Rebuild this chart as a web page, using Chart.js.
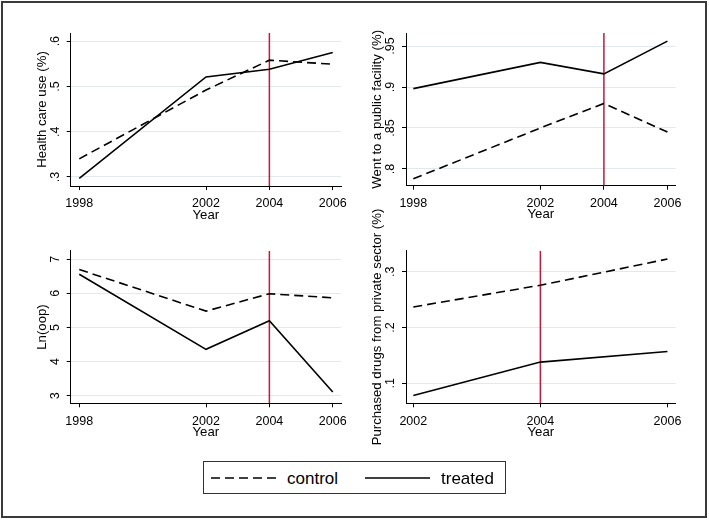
<!DOCTYPE html>
<html>
<head>
<meta charset="utf-8">
<script src="https://cdn.jsdelivr.net/npm/chart.js@4"></script>
<style>
  body { margin: 0; width: 709px; height: 520px; position: relative; overflow: hidden; background: #fff;
         font-family: 'Liberation Sans', Arial, sans-serif; }
  .frame { position: absolute; left: 1px; top: 1px; width: 706px; height: 517px; box-sizing: border-box; border: 2px solid #3a3a3a; }
  canvas { position: absolute; }
  #legend { position: absolute; left: 203px; top: 461px; width: 303px; height: 33px; box-sizing: border-box; border: 1.3px solid #333; }
  .key { position: absolute; }
  .lab { position: absolute; font-size: 17px; line-height: 17px; color: #000; }
</style>
</head>
<body>
<div class="frame"></div>
<canvas id="p1" width="360" height="230" style="left:0;top:0"></canvas>
<canvas id="p2" width="354" height="230" style="left:355px;top:0"></canvas>
<canvas id="p3" width="360" height="230" style="left:0;top:230px"></canvas>
<canvas id="p4" width="354" height="265" style="left:355px;top:195px"></canvas>

<div id="legend"></div>
<svg class="key" style="left:211px;top:476px" width="66" height="4"><line x1="0" y1="2" x2="66" y2="2" stroke="#000" stroke-width="1.6" stroke-dasharray="9 5"/></svg>
<span class="lab" style="left:287px;top:470px">control</span>
<svg class="key" style="left:365px;top:476px" width="65" height="4"><line x1="0" y1="2" x2="65" y2="2" stroke="#000" stroke-width="1.6"/></svg>
<span class="lab" style="left:441px;top:470px">treated</span>

<script>
// survey years
const years = [1998, 2002, 2004, 2006];
const drugYears = [2002, 2004, 2006];
const treatYear = 2004;

// health care use (%)
const careControl = [0.340, 0.492, 0.558, 0.549];
const careTreated = [0.297, 0.521, 0.538, 0.575];
const careTicks = [0.3, 0.4, 0.5, 0.6];

// went to a public facility (%)
const publicControl = [0.788, 0.850, 0.880, 0.845];
const publicTreated = [0.898, 0.930, 0.916, 0.956];
const publicTicks = [0.8, 0.85, 0.9, 0.95];

// ln(oop)
const oopControl = [6.70, 5.48, 5.99, 5.87];
const oopTreated = [6.56, 4.36, 5.20, 3.11];
const oopTicks = [3, 4, 5, 6, 7];

// purchased drugs from private sector (%)
const drugsControl = [0.237, 0.276, 0.323];
const drugsTreated = [0.078, 0.138, 0.157];
const drugsTicks = [0.1, 0.2, 0.3];

const tickFont = { family: "'Liberation Sans', Arial, sans-serif", size: 12.5 };
const titleFont = { family: "'Liberation Sans', Arial, sans-serif", size: 13.2 };

// stata style labels: .5 instead of 0.5
const fmt = v => String(+Number(v).toFixed(2)).replace(/^0\./, '.');

function panel(id, p) {
  const pts = arr => p.xs.map((x, i) => ({ x: x, y: arr[i] }));
  new Chart(document.getElementById(id).getContext('2d'), {
    type: 'line',
    data: {
      datasets: [
        { label: 'control', data: pts(p.control), borderColor: '#000', borderWidth: 1.6, borderDash: [9, 5], pointRadius: 0 },
        { label: 'treated', data: pts(p.treated), borderColor: '#000', borderWidth: 1.6, pointRadius: 0 },
        { label: 'policy', data: [{ x: treatYear, y: p.yRange[0] }, { x: treatYear, y: p.yRange[1] }],
          borderColor: '#c8163a', borderWidth: 1.5, pointRadius: 0 }
      ]
    },
    options: {
      responsive: false,
      animation: false,
      layout: { padding: p.pad },
      plugins: { legend: { display: false }, tooltip: { enabled: false } },
      scales: {
        x: {
          type: 'linear', min: p.xRange[0], max: p.xRange[1], bounds: 'data',
          afterBuildTicks: s => { s.ticks = p.xs.map(v => ({ value: v })); },
          afterFit: s => { s.height = 37; },
          grid: { drawOnChartArea: false, tickLength: 4, tickColor: '#000' },
          border: { color: '#000', width: 1 },
          ticks: { color: '#000', font: tickFont, padding: 6.5, maxRotation: 0, autoSkip: false, callback: v => String(v) },
          title: { display: true, text: 'Year', color: '#000', font: titleFont, padding: 0 }
        },
        y: {
          min: p.yRange[0], max: p.yRange[1], bounds: 'data',
          afterBuildTicks: s => { s.ticks = p.yTicks.map(v => ({ value: v })); },
          afterFit: s => { s.width = p.yWidth; },
          grid: { color: '#e2e9ec', lineWidth: 1, tickLength: 4, tickColor: '#000' },
          border: { color: '#000', width: 1 },
          ticks: { color: '#000', font: tickFont, padding: p.tickPad, minRotation: 90, maxRotation: 90,
                   crossAlign: 'center', autoSkip: false, callback: fmt },
          title: { display: true, text: p.yTitle, color: '#000', font: titleFont, padding: 0 }
        }
      }
    }
  });
}

panel('p1', {
  xs: years, control: careControl, treated: careTreated, yTicks: careTicks,
  xRange: [1997.73, 2006.26], yRange: [0.280, 0.618], yTitle: 'Health care use (%)',
  pad: { left: 34, top: 33, right: 19, bottom: 7 }, yWidth: 36.7, tickPad: 6.3
});
panel('p2', {
  xs: years, control: publicControl, treated: publicTreated, yTicks: publicTicks,
  xRange: [1997.77, 2006.26], yRange: [0.7796, 0.9659], yTitle: 'Went to a public facility (%)',
  pad: { left: 14.2, top: 33, right: 33.3, bottom: 7.3 }, yWidth: 36.8, tickPad: 2.8
});
panel('p3', {
  xs: years, control: oopControl, treated: oopTreated, yTicks: oopTicks,
  xRange: [1997.73, 2006.26], yRange: [2.777, 7.252], yTitle: 'Ln(oop)',
  pad: { left: 34, top: 20.7, right: 19, bottom: 19.7 }, yWidth: 36.7, tickPad: 8
});
panel('p4', {
  xs: drugYears, control: drugsControl, treated: drugsTreated, yTicks: drugsTicks,
  xRange: [2001.885, 2006.13], yRange: [0.064, 0.338], yTitle: 'Purchased drugs from private sector (%)',
  pad: { left: 14.2, top: 55.7, right: 33.3, bottom: 19.7 }, yWidth: 36.8, tickPad: 6.3
});
</script>
</body>
</html>
